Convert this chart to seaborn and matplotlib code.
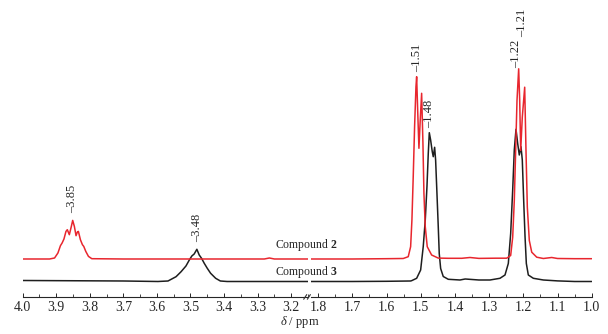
import numpy as np
import matplotlib
matplotlib.use('Agg')
import matplotlib.pyplot as plt
import seaborn as sns

# traced spectra: chemical shift (ppm) and intensity above own baseline
c2_ppm = [4.000, 3.920, 3.905, 3.895, 3.8875, 3.8825, 3.877, 3.871, 3.867, 3.861,
          3.855, 3.851, 3.846, 3.841, 3.837, 3.834, 3.828, 3.822, 3.818, 3.812,
          3.804, 3.794, 3.700, 3.500, 3.280, 3.265, 3.250, 3.160,
          1.821, 1.700, 1.600, 1.5512, 1.5366, 1.5296, 1.5258, 1.522, 1.518, 1.514,
          1.512, 1.509, 1.5053, 1.5015, 1.4974, 1.4936, 1.4907, 1.4868, 1.481,
          1.4682, 1.4488, 1.420, 1.380, 1.356, 1.330, 1.280, 1.2486, 1.237,
          1.2311, 1.2264, 1.2224, 1.2185, 1.2136, 1.2106, 1.2077, 1.203, 1.196,
          1.1922, 1.1883, 1.1825, 1.1754, 1.1608, 1.1415, 1.117, 1.100, 1.050, 1.000]
c2_int = [0, 0, 1, 6, 13.3, 16, 20, 27.6, 29.3, 24.3,
          32.6, 38.6, 32.6, 23.3, 27, 27.6, 19.3, 14.3, 12.6, 7.6,
          2.6, 0.3, 0, 0, 0, 1, 0, 0,
          0, 0, 0.3, 0.5, 2.3, 12.3, 39, 82.3, 132.3, 172.3,
          182.3, 149, 110.7, 139, 165.7, 115.7, 65.7, 32.3, 12.3,
          4, 0.9, 0.7, 0.7, 1.5, 0.6, 0.8, 0.8, 3.5,
          21.8, 58.5, 108.5, 158.5, 190.2, 158.5, 108.5, 141.8, 171.8,
          108.5, 51.8, 18.5, 6.8, 1.8, 0.5, 1.5, 0.5, 0.3, 0.3]

c3_ppm = [4.000, 3.700, 3.597, 3.567, 3.543, 3.528, 3.5135, 3.5035, 3.496, 3.489,
          3.481, 3.474, 3.467, 3.459, 3.450, 3.440, 3.425, 3.411, 3.391, 3.300,
          3.160,
          1.821, 1.700, 1.600, 1.530, 1.5267, 1.512, 1.5003, 1.4927, 1.4868, 1.4818,
          1.478, 1.475, 1.4711, 1.4663, 1.4634, 1.4594, 1.4565, 1.4526, 1.4488,
          1.4459, 1.4418, 1.4342, 1.4195, 1.3853, 1.370, 1.330, 1.2975, 1.2683,
          1.2536, 1.2439, 1.237, 1.2311, 1.2264, 1.2214, 1.2165, 1.2118, 1.2068,
          1.203, 1.199, 1.195, 1.1912, 1.1854, 1.1707, 1.1415, 1.100, 1.050, 1.000]
c3_int = [1.0, 0.5, 0, 0.5, 4.8, 9.8, 15.5, 21.5, 25.5, 27.5,
          32.2, 26.5, 23.2, 18.2, 13.2, 8.2, 3.2, 0.5, 0, 0,
          0,
          0, 0, 0.2, 0.5, 0.8, 3.2, 11.5, 35, 61.5, 95,
          128, 148.8, 141.5, 129.8, 124.8, 134.2, 121.5, 88, 55,
          28, 13, 5, 2.2, 1.5, 2.5, 1.5, 1.5, 3.2,
          6.5, 18, 48, 91.5, 131.5, 152.2, 138, 126.5, 134.8,
          121.5, 81.5, 45, 18, 6.5, 3.2, 1.5, 0.6, 0, 0]

peak_labels = ['3.85', '3.48', '1.51', '1.48', '1.22', '1.21']
peak_ppm = [3.852, 3.481, 1.511, 1.475, 1.220, 1.205]

red = '#e8262e'
dark = '#1e1e1e'

sns.set_style('ticks')
plt.rcParams['font.family'] = ['Liberation Serif', 'DejaVu Serif']
plt.rcParams['mathtext.fontset'] = 'custom'
plt.rcParams['mathtext.rm'] = 'Liberation Serif'
plt.rcParams['mathtext.it'] = 'Liberation Serif:italic'
plt.rcParams['mathtext.bf'] = 'Liberation Serif:bold'

fig = plt.figure(figsize=(6.08, 3.34), dpi=100)
ax_l = fig.add_axes([0.0373, 0.1108, 0.4692, 0.8892])
ax_r = fig.add_axes([0.5115, 0.1108, 0.4617, 0.8892])

off2, off3 = 38, 15.5
c2_ppm, c2_int = np.array(c2_ppm), np.array(c2_int)
c3_ppm, c3_int = np.array(c3_ppm), np.array(c3_int)

for ax, lim in [(ax_l, (4.0, 3.162)), (ax_r, (1.821, 1.0))]:
    sns.lineplot(x=c3_ppm, y=c3_int + off3, ax=ax, color=dark, lw=1.1)
    sns.lineplot(x=c2_ppm, y=c2_int + off2, ax=ax, color=red, lw=1.1)
    ax.set_xlim(*lim)
    ax.set_ylim(0, 297)
    ax.set_yticks([])
    for s in ['top', 'left', 'right']:
        ax.spines[s].set_visible(False)
    ax.spines['bottom'].set_linewidth(0.8)
    ax.tick_params(axis='x', direction='in', length=3, width=0.7, labelsize=10, pad=3)
    ax.tick_params(axis='x', which='minor', direction='in', length=2, width=0.6)
    ax.set_xlabel('')

ax_l.set_xticks(np.arange(4.0, 3.15, -0.1))
ax_l.set_xticks(np.arange(3.95, 3.15, -0.1), minor=True)
ax_r.set_xticks(np.arange(1.8, 0.99, -0.1))
ax_r.set_xticks(np.arange(1.75, 0.99, -0.1), minor=True)
ax_l.set_xticklabels([f'{v:.1f}' for v in np.arange(4.0, 3.15, -0.1)])
ax_r.set_xticklabels([f'{v:.1f}' for v in np.arange(1.8, 0.99, -0.1)])

# peak labels
label_y = [84, 55, 225, 169, 229, 260]
for txt, p, yy in zip(peak_labels, peak_ppm, label_y):
    ax = ax_l if p > 2 else ax_r
    ax.text(p, yy, '\u2013' + txt, rotation=90, ha='center', va='bottom', fontsize=9)

# compound names
fig.text(0.503, 1 - 245 / 334, 'Compound $\\mathbf{2}$', ha='center', va='center', fontsize=8.5)
fig.text(0.503, 1 - 272 / 334, 'Compound $\\mathbf{3}$', ha='center', va='center', fontsize=8.5)

fig.text(0.493, 1 - 322 / 334, '$\\delta$ / ppm', ha='center', va='center', fontsize=9)

# break marks
for dx in (0, 0.006):
    fig.add_artist(plt.Line2D([0.4995 + dx, 0.5045 + dx], [0.104, 0.118], color='#333333', lw=0.8))

fig.savefig('out.png', dpi=100)
